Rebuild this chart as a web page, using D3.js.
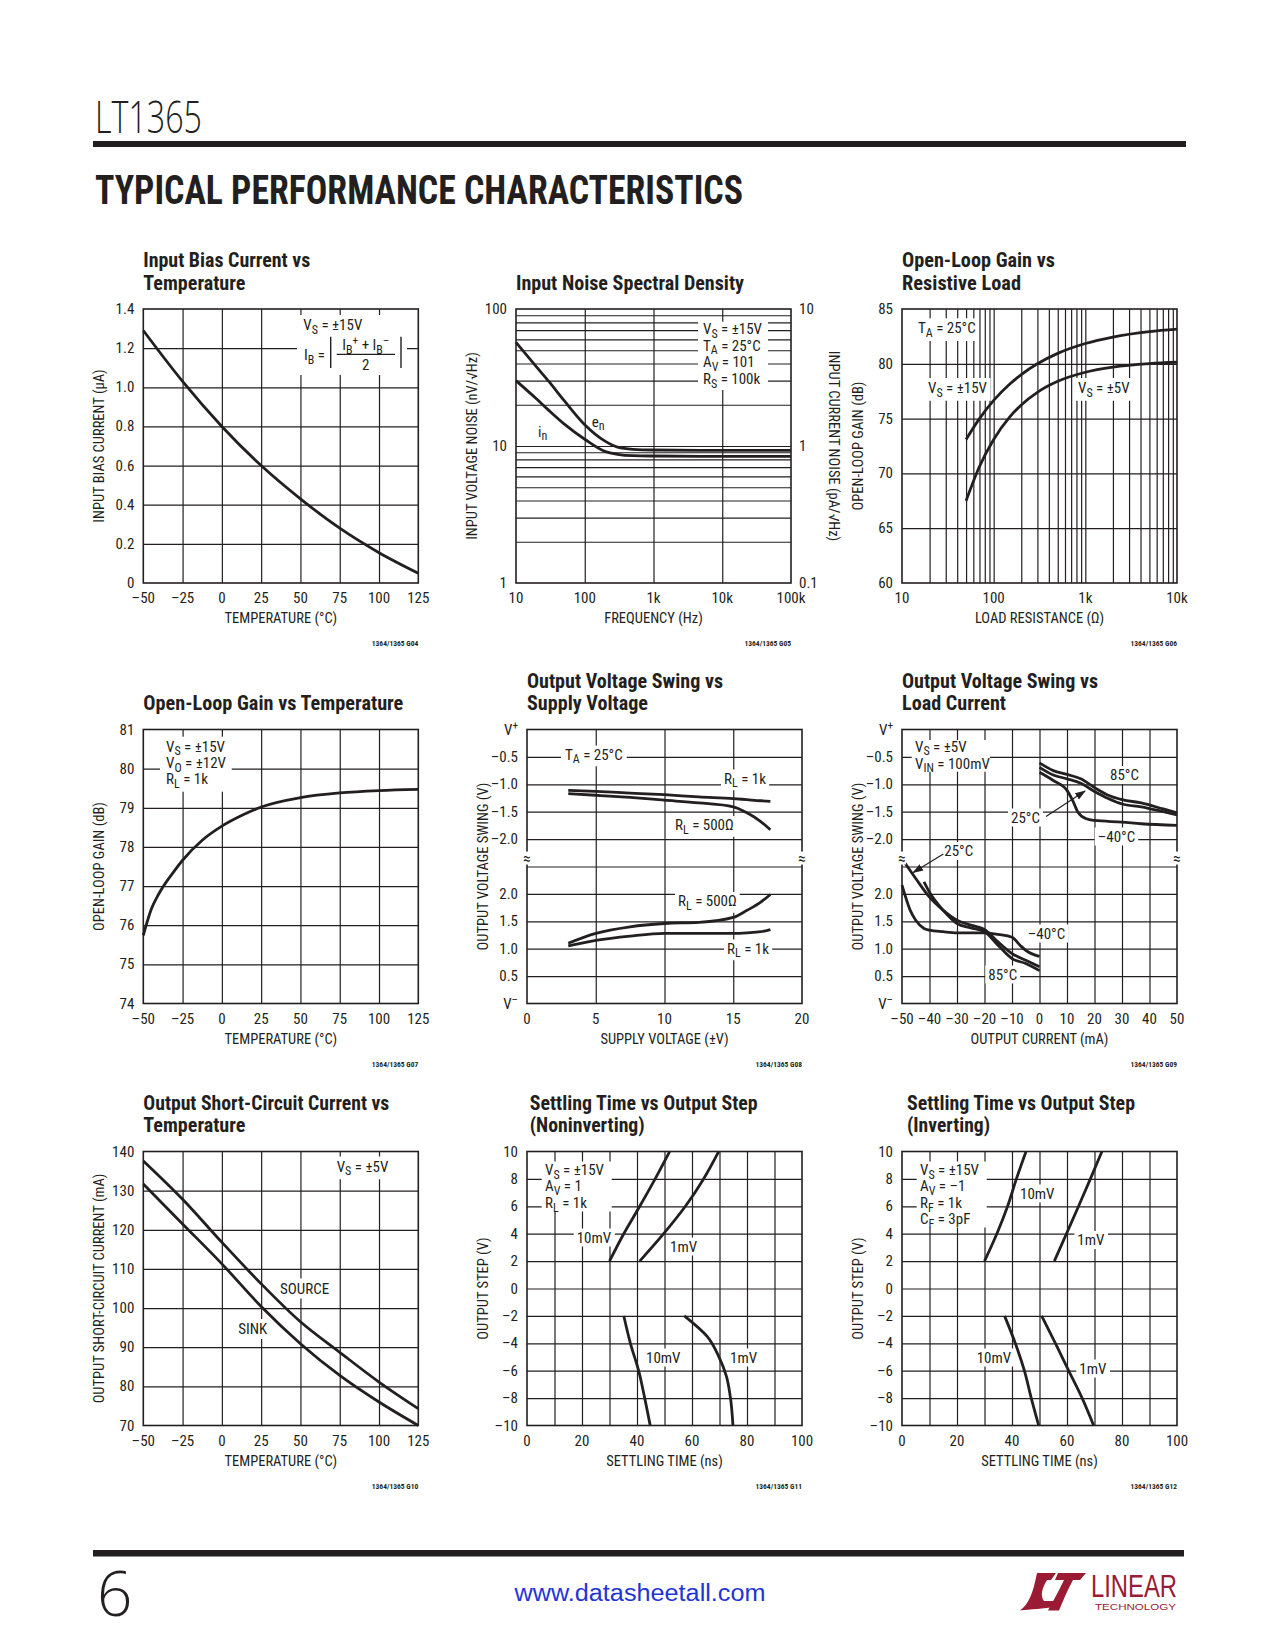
<!DOCTYPE html>
<html><head><meta charset="utf-8">
<script src="https://cdnjs.cloudflare.com/ajax/libs/d3/7.8.5/d3.min.js"></script>
<style>body{margin:0;background:#fff}svg{display:block}</style>
</head><body>
<script>
// ================= DATA =================
// 1. Input bias current vs temperature
const biasTemp = [-50, -25, 0, 25, 50, 75, 100, 125];
const biasCurrent = [1.29, 1.03, 0.80, 0.60, 0.43, 0.28, 0.155, 0.05];
// 2. Input noise spectral density
const noiseFreq = [10, 20, 30, 50, 100, 200, 300, 500, 1000, 10000, 100000];
const noiseEn = [57, 37.6, 29.6, 21.5, 14.3, 10.8, 9.8, 9.45, 9.35, 9.3, 9.3];      // nV/rtHz
const noiseIn = [3.0, 2.2, 1.82, 1.45, 1.12, 0.91, 0.87, 0.85, 0.845, 0.84, 0.84];  // pA/rtHz
// 3. Open-loop gain vs resistive load
const loadRes = [50, 70, 100, 150, 200, 300, 500, 1000, 2000, 5000, 10000];
const gainVs15 = [73.1, 75.0, 76.66, 78.15, 79.02, 80.0, 80.95, 81.85, 82.44, 82.93, 83.16];
const gainVs5 = [67.5, 70.63, 73.1, 75.16, 76.25, 77.4, 78.4, 79.23, 79.7, 80.02, 80.14];
// 4. Open-loop gain vs temperature
const olgTemp = [-50, -45, -40, -30, -25, -12.5, 0, 12.5, 25, 50, 75, 100, 125];
const olgGain = [75.74, 76.4, 76.81, 77.4, 77.66, 78.17, 78.53, 78.80, 79.02, 79.26, 79.38, 79.44, 79.47];
// 5. Output voltage swing vs supply voltage (top: V from V+, bottom: V from V-)
const swingSupply = [3, 5, 7.5, 10, 12.5, 15, 16, 17, 17.7];
const swingTop1k = [-1.11, -1.13, -1.16, -1.19, -1.23, -1.26, -1.28, -1.30, -1.31];
const swingTop500 = [-1.17, -1.20, -1.24, -1.29, -1.34, -1.41, -1.52, -1.68, -1.83];
const swingBot500 = [1.10, 1.28, 1.40, 1.46, 1.48, 1.57, 1.70, 1.85, 1.99];
const swingBot1k = [1.05, 1.15, 1.23, 1.28, 1.28, 1.28, 1.29, 1.31, 1.35];
// 6. Output voltage swing vs load current
const srcCurrent = [0, 5, 10, 15, 20, 25, 30, 37, 45, 50];
const src85 = [-0.61, -0.75, -0.82, -0.90, -1.06, -1.20, -1.28, -1.34, -1.45, -1.52];
const src25 = [-0.69, -0.83, -0.90, -0.98, -1.13, -1.26, -1.36, -1.41, -1.50, -1.56];
const srcColdCurrent = [0, 5, 10, 12, 14, 17, 20, 30, 37, 50];
const srcCold = [-0.78, -0.93, -1.11, -1.29, -1.51, -1.63, -1.66, -1.69, -1.72, -1.75];
const sinkCurrent = [-50, -45, -40, -35, -30, -25, -20, -15, -10, -5, 0];
const sink25 = [2.64, 2.28, 1.94, 1.70, 1.52, 1.43, 1.35, 1.12, 0.91, 0.79, 0.67];
const sink85Current = [-42, -40, -35, -30, -25, -20, -15, -10, -5, 0];
const sink85 = [2.22, 2.03, 1.70, 1.46, 1.38, 1.31, 1.06, 0.82, 0.73, 0.60];
const sinkColdCurrent = [-50, -47, -45, -42, -40, -35, -30, -20, -15, -10, -7, -5, 0];
const sinkCold = [2.16, 1.70, 1.52, 1.37, 1.34, 1.31, 1.29, 1.29, 1.26, 1.21, 1.06, 0.97, 0.86];
// 7. Output short-circuit current vs temperature
const scTemp = [-50, -25, 0, 25, 50, 75, 100, 125];
const scSource = [137.6, 127.8, 116.8, 106.2, 96.5, 88.7, 81.1, 74.3];
const scSink = [131.7, 121.5, 111.3, 100.4, 90.9, 82.8, 76.0, 70.0];
// 8. Settling time vs output step (noninverting)
const stepPos = [2, 4, 6, 8, 10];
const stepNeg = [-2, -4, -6, -8, -10];
const ni10mVPos = [30, 35.2, 41.0, 46.6, 51.9];
const ni1mVPos = [41, 49.7, 57.6, 64.2, 69.7];
const ni10mVNeg = [35.2, 37.6, 40.6, 42.8, 44.8];
const ni1mVNegStep = [-2, -3.5, -4.95, -6.4, -7.86, -10];
const ni1mVNeg = [57.2, 65.5, 69.7, 72.5, 73.9, 74.9];
// 9. Settling time vs output step (inverting)
const inv10mVPos = [30, 34.5, 38.4, 41.6, 45.1];
const inv1mVPos = [55.4, 59.8, 64.2, 68.5, 72.7];
const inv10mVNeg = [37.3, 41.2, 44.5, 47.0, 49.7];
const inv1mVNeg = [50.8, 55.8, 60.6, 65.5, 69.7];

// tick labels
const tempTicks = [-50, -25, 0, 25, 50, 75, 100, 125];
const biasTicks = [0, 0.2, 0.4, 0.6, 0.8, 1.0, 1.2, 1.4];
const freqTicks = [10, 100, 1000, 10000, 100000];
const freqLabels = ['10', '100', '1k', '10k', '100k'];
const resTicks = [10, 100, 1000, 10000];
const resLabels = ['10', '100', '1k', '10k'];
const gainTicks = [60, 65, 70, 75, 80, 85];
const olgTicks = [74, 75, 76, 77, 78, 79, 80, 81];
const supplyTicks = [0, 5, 10, 15, 20];
const currentTicks = [-50, -40, -30, -20, -10, 0, 10, 20, 30, 40, 50];
const swingUpTicks = [-0.5, -1.0, -1.5, -2.0];
const swingLoTicks = [2.0, 1.5, 1.0, 0.5];
const scTicks = [70, 80, 90, 100, 110, 120, 130, 140];
const settleTicks = [0, 20, 40, 60, 80, 100];
const stepTicks = [10, 8, 6, 4, 2, 0, -2, -4, -6, -8, -10];

const chartTitles = [
  ['Input Bias Current vs', 'Temperature'],
  ['Input Noise Spectral Density'],
  ['Open-Loop Gain vs', 'Resistive Load'],
  ['Open-Loop Gain vs Temperature'],
  ['Output Voltage Swing vs', 'Supply Voltage'],
  ['Output Voltage Swing vs', 'Load Current'],
  ['Output Short-Circuit Current vs', 'Temperature'],
  ['Settling Time vs Output Step', '(Noninverting)'],
  ['Settling Time vs Output Step', '(Inverting)']
];
const figIds = ['G04', 'G05', 'G06', 'G07', 'G08', 'G09', 'G10', 'G11', 'G12'];

// ================= LAYOUT =================
const W = 275, H = 274;
const pos = [[143.3, 309], [516, 309], [902, 309], [143.3, 729.5], [527, 729.5], [902, 729.5], [143.3, 1151.5], [527, 1151.5], [902, 1151.5]];
const titleLens = [[167, 102], [228], [153, 119], [260], [196, 121], [196, 104], [246, 102], [228, 115], [228, 83]];
const titleDx = [0, 0, 0, 0, 0, 0, 0, 2.7, 5];
const INK = '#231f20';
const FS = 15;

// ---- font detection ----
function fontAvailable(name) {
  const c = document.createElement('canvas').getContext('2d');
  const s = 'mmmmmmmmmmlliWWW0123456789abcXYZ';
  return ['monospace', 'serif'].some(b => {
    c.font = `72px ${b}`; const w = c.measureText(s).width;
    c.font = `72px "${name}", ${b}`; return c.measureText(s).width !== w;
  });
}
let NARROW = 'Liberation Sans', SX = 0.82;
for (const [n, s] of [['Liberation Sans Narrow', 1], ['Roboto Condensed', 1], ['DejaVu Sans Condensed', 0.85]]) {
  if (fontAvailable(n)) { NARROW = n; SX = s; break; }
}
const LIGHT = fontAvailable('Open Sans') ? 'Open Sans' : 'Liberation Sans';

const svg = d3.select('body').append('svg').attr('width', 1275).attr('height', 1650).attr('viewBox', '0 0 1275 1650');
svg.append('rect').attr('width', 1275).attr('height', 1650).attr('fill', '#fff');
const defs = svg.append('defs');
defs.append('marker').attr('id', 'ah').attr('viewBox', '0 0 10 10').attr('refX', 9).attr('refY', 5)
  .attr('markerWidth', 9).attr('markerHeight', 9).attr('orient', 'auto')
  .append('path').attr('d', 'M0,1.5L10,5L0,8.5Z').attr('fill', INK);

function rich(t, str, size) {
  const parts = str.split(/(_\{[^}]*\}|\^\{[^}]*\})/).filter(s => s.length);
  let shift = 0;
  parts.forEach(p => {
    let txt = p, sh = 0, fs = null;
    if (p.startsWith('_{')) { txt = p.slice(2, -1); sh = size * 0.25; fs = size * 0.8; }
    else if (p.startsWith('^{')) { txt = p.slice(2, -1); sh = -size * 0.38; fs = size * 0.75; }
    const ts = t.append('tspan').text(txt);
    if (sh !== shift) ts.attr('dy', sh - shift);
    if (fs) ts.attr('font-size', fs);
    shift = sh;
  });
}
function T(parent, x, y, str, o = {}) {
  const size = o.size || FS;
  const sx = o.sx != null ? o.sx : SX;
  let tr = `translate(${x},${y})`;
  if (o.rotate) tr += ` rotate(${o.rotate})`;
  if (sx !== 1) tr += ` scale(${sx},1)`;
  const g = parent.append('g').attr('transform', tr);
  const t = g.append('text').attr('font-family', o.family || NARROW).attr('font-size', size)
    .attr('font-weight', o.weight || 'normal').attr('text-anchor', o.anchor || 'start').attr('fill', o.color || INK);
  rich(t, String(str), size);
  if (o.len) t.attr('textLength', o.len / sx).attr('lengthAdjust', 'spacingAndGlyphs');
  if (o.bg) {
    const b = t.node().getBBox(); const p = Array.isArray(o.bg) ? o.bg : [3, 0];
    g.insert('rect', 'text').attr('x', b.x - p[0] / sx).attr('y', b.y - p[1])
      .attr('width', b.width + 2 * p[0] / sx).attr('height', b.height + 2 * p[1]).attr('fill', '#fff');
  }
  return g;
}
const fmtMinus = v => (v < 0 ? '–' : '') + Math.abs(v);
const fmt1 = v => v === 0 ? '0' : (v < 0 ? '–' : '') + Math.abs(v).toFixed(1);

function styleGrid(s) { s.select('.domain').remove(); s.selectAll('line').attr('stroke', INK).attr('stroke-width', 1.2); }
function gridX(g, sc, vals) {
  g.append('g').attr('transform', `translate(0,${H})`)
    .call(d3.axisBottom(sc).tickValues(vals).tickSize(-H).tickFormat('')).call(styleGrid);
}
function gridY(g, sc, vals) {
  g.append('g').call(d3.axisLeft(sc).tickValues(vals).tickSize(-W).tickFormat('')).call(styleGrid);
}
function border(g) { g.append('rect').attr('width', W).attr('height', H).attr('fill', 'none').attr('stroke', INK).attr('stroke-width', 1.6); }
function xLabels(g, sc, vals, lab) { vals.forEach((v, i) => T(g, sc(v), H + 20, lab(v, i), { anchor: 'middle' })); }
function yLabels(g, sc, vals, lab, right) {
  vals.forEach((v, i) => T(g, right ? W + 8 : -9, sc(v) + 5, lab(v, i), { anchor: right ? 'start' : 'end' }));
}
function xTitle(g, s) { T(g, W / 2, H + 40, s, { anchor: 'middle', size: 14.5 }); }
function yTitle(g, s) { T(g, -39, H / 2, s, { anchor: 'middle', rotate: -90, size: 14.5 }); }
function yTitleR(g, s) { T(g, W + 38, H / 2, s, { anchor: 'middle', rotate: 90, size: 14.5 }); }
function whiteBox(g, x, y, w, h) { g.append('rect').attr('x', x).attr('y', y).attr('width', w).attr('height', h).attr('fill', '#fff'); }
function curve(g, xs, ys, sx, sy, c) {
  const pts = xs.map((d, i) => [d, ys[i]]);
  g.append('path').datum(pts).attr('fill', 'none').attr('stroke', INK).attr('stroke-width', 2.8)
    .attr('stroke-linejoin', 'round').attr('stroke-linecap', 'butt')
    .attr('d', d3.line().x(d => sx(d[0])).y(d => sy(d[1])).curve(c || d3.curveMonotoneX));
}
function panel(i) {
  const g = svg.append('g').attr('transform', `translate(${pos[i][0]},${pos[i][1]})`);
  const lines = chartTitles[i];
  lines.forEach((l, k) => {
    const y = lines.length === 2 ? (k === 0 ? -42 : -19.5) : -19.5;
    T(g, titleDx[i], y, l, { size: 20, weight: 'bold', len: titleLens[i][k], sx: 1 });
  });
  T(g, W, H + 63, '1364/1365 ' + figIds[i], { anchor: 'end', size: 7.5, weight: 'bold' });
  return g;
}
function breakMarks(g, y) {
  [0, W].forEach(x => T(g, x, y + 5, '≈', { anchor: 'middle', size: 16, sx: 1, bg: [0, -3] }));
}

// ================= HEADER / FOOTER =================
T(svg, 95, 133, 'LT1365', { family: LIGHT, size: 44, weight: 300, len: 107, sx: 1 });
svg.append('rect').attr('x', 93).attr('y', 141).attr('width', 1093).attr('height', 6).attr('fill', INK);
T(svg, 95, 203.5, 'TYPICAL PERFORMANCE CHARACTERISTICS', { size: 40, weight: 'bold', len: 648, sx: 1 });
svg.append('rect').attr('x', 93).attr('y', 1550).attr('width', 1091).attr('height', 6.5).attr('fill', INK);
T(svg, 97, 1616, '6', { family: LIGHT, size: 62, weight: 300, sx: 1 });
T(svg, 640, 1601, 'www.datasheetall.com', { family: 'Liberation Sans', size: 23, anchor: 'middle', color: '#1f35d4', len: 251, sx: 1 });
{
  const lg = svg.append('g').attr('transform', 'translate(1020,1573)');
  const red = '#9b1b35';
  lg.append('path').attr('fill', red).attr('d', 'M17,0 L36,0 L31,7 L27,7 C22,15 20,23 24,28 L40,28 L35,34 C24,35.5 10,36.5 0,37.5 C9,31 13,20 17,0 Z');
  lg.append('path').attr('fill', red).attr('d', 'M38,0 L66,0 L60,7 L53,7 C47,18 43,28 39,37.5 L28,37.5 C33,28 39,18 44,7 L35,7 Z');
  T(svg, 1091, 1596.5, 'LINEAR', { family: 'Liberation Sans', size: 32, color: red, len: 86, sx: 1 });
  T(svg, 1095, 1609.5, 'TECHNOLOGY', { family: 'Liberation Sans', size: 9.5, color: red, len: 81, sx: 1 });
}

// ================= 1. Input bias current =================
{
  const g = panel(0);
  const x = d3.scaleLinear().domain([-50, 125]).range([0, W]);
  const y = d3.scaleLinear().domain([0, 1.4]).range([H, 0]);
  gridX(g, x, tempTicks.slice(1, -1)); gridY(g, y, biasTicks.slice(1, -1));
  whiteBox(g, 153.7, 6, 110, 60);
  T(g, 160, 21, 'V_{S} = ±15V');
  T(g, 160.7, 51, 'I_{B} =');
  [187.4, 257.7].forEach(bx => g.append('line').attr('x1', bx).attr('x2', bx).attr('y1', 27.7).attr('y2', 59).attr('stroke', INK).attr('stroke-width', 1.4));
  g.append('line').attr('x1', 193.4).attr('x2', 251.7).attr('y1', 45.3).attr('y2', 45.3).attr('stroke', INK).attr('stroke-width', 1.2);
  T(g, 222.5, 41, 'I_{B}^{+} + I_{B}^{–}', { anchor: 'middle' });
  T(g, 222.5, 61, '2', { anchor: 'middle' });
  curve(g, biasTemp, biasCurrent, x, y);
  border(g);
  xLabels(g, x, tempTicks, fmtMinus); yLabels(g, y, biasTicks, fmt1);
  xTitle(g, 'TEMPERATURE (°C)'); yTitle(g, 'INPUT BIAS CURRENT (µA)');
}
// ================= 2. Noise =================
{
  const g = panel(1);
  const x = d3.scaleLog().domain([10, 1e5]).range([0, W]);
  const y = d3.scaleLog().domain([1, 100]).range([H, 0]);
  const yR = d3.scaleLog().domain([0.1, 10]).range([H, 0]);
  const hv = [...d3.range(2, 10), 10, ...d3.range(20, 100, 10)];
  gridX(g, x, [100, 1000, 10000]); gridY(g, y, hv);
  whiteBox(g, 182, 12.7, 70, 68.3);
  ['V_{S} = ±15V', 'T_{A} = 25°C', 'A_{V} = 101', 'R_{S} = 100k'].forEach((s, i) => T(g, 187, 25 + i * 16.7, s));
  curve(g, noiseFreq, noiseEn, x, y);
  curve(g, noiseFreq, noiseIn, x, yR);
  T(g, 75.7, 117.7, 'e_{n}'); T(g, 22, 127.7, 'i_{n}');
  border(g);
  xLabels(g, x, freqTicks, (v, i) => freqLabels[i]);
  yLabels(g, y, [1, 10, 100], v => String(v));
  yLabels(g, yR, [0.1, 1, 10], v => String(v), true);
  xTitle(g, 'FREQUENCY (Hz)'); yTitle(g, 'INPUT VOLTAGE NOISE (nV/√Hz)'); yTitleR(g, 'INPUT CURRENT NOISE (pA/√Hz)');
}
// ================= 3. OLG vs load =================
{
  const g = panel(2);
  const x = d3.scaleLog().domain([10, 1e4]).range([0, W]);
  const y = d3.scaleLinear().domain([60, 85]).range([H, 0]);
  const vv = [...d3.range(20, 100, 10), 100, ...d3.range(200, 1000, 100), 1000, ...d3.range(2000, 10000, 1000)];
  gridX(g, x, vv); gridY(g, y, gainTicks.slice(1, -1));
  T(g, 16, 24.3, 'T_{A} = 25°C', { bg: [3, 1] });
  T(g, 26, 84, 'V_{S} = ±15V', { bg: [3, 1] });
  T(g, 176, 84, 'V_{S} = ±5V', { bg: [3, 1] });
  curve(g, loadRes, gainVs15, x, y);
  curve(g, loadRes, gainVs5, x, y);
  border(g);
  xLabels(g, x, resTicks, (v, i) => resLabels[i]);
  yLabels(g, y, gainTicks, v => String(v));
  xTitle(g, 'LOAD RESISTANCE (Ω)'); yTitle(g, 'OPEN-LOOP GAIN (dB)');
}
// ================= 4. OLG vs temp =================
{
  const g = panel(3);
  const x = d3.scaleLinear().domain([-50, 125]).range([0, W]);
  const y = d3.scaleLinear().domain([74, 81]).range([H, 0]);
  gridX(g, x, tempTicks.slice(1, -1)); gridY(g, y, olgTicks.slice(1, -1));
  whiteBox(g, 16.7, 7.2, 71.7, 55);
  ['V_{S} = ±15V', 'V_{O} = ±12V', 'R_{L} = 1k'].forEach((s, i) => T(g, 22.7, 22 + i * 16.3, s));
  curve(g, olgTemp, olgGain, x, y);
  border(g);
  xLabels(g, x, tempTicks, fmtMinus); yLabels(g, y, olgTicks, v => String(v));
  xTitle(g, 'TEMPERATURE (°C)'); yTitle(g, 'OPEN-LOOP GAIN (dB)');
}
// ---- shared broken axis for swing charts ----
function swingAxes(g) {
  const row = d3.scaleLinear().domain([0, 10]).range([0, H]);
  const yUp = d3.scaleLinear().domain([0, -2.5]).range([0, H / 2]);
  const yLo = d3.scaleLinear().domain([0, 2.5]).range([H, H / 2]);
  gridY(g, row, d3.range(1, 10));
  return { row, yUp, yLo };
}
function swingLabels(g, s) {
  yLabels(g, s.yUp, [0, ...swingUpTicks], v => v === 0 ? 'V^{+}' : fmt1(v));
  yLabels(g, s.yLo, [...swingLoTicks, 0], v => v === 0 ? 'V^{–}' : fmt1(v));
  breakMarks(g, s.row(4.71));
  yTitle(g, 'OUTPUT VOLTAGE SWING (V)');
}
// ================= 5. swing vs supply =================
{
  const g = panel(4);
  const x = d3.scaleLinear().domain([0, 20]).range([0, W]);
  const s = swingAxes(g);
  gridX(g, x, [5, 10, 15]);
  T(g, 38, 30, 'T_{A} = 25°C', { bg: [4, 0] });
  T(g, 197, 54, 'R_{L} = 1k', { bg: [3, 0] });
  T(g, 148, 100.5, 'R_{L} = 500Ω', { bg: [3, 0] });
  T(g, 151, 176.5, 'R_{L} = 500Ω', { bg: [3, 0] });
  T(g, 200, 224, 'R_{L} = 1k', { bg: [3, 0] });
  curve(g, swingSupply, swingTop1k, x, s.yUp);
  curve(g, swingSupply, swingTop500, x, s.yUp);
  curve(g, swingSupply, swingBot500, x, s.yLo);
  curve(g, swingSupply, swingBot1k, x, s.yLo);
  border(g);
  xLabels(g, x, supplyTicks, v => String(v));
  swingLabels(g, s);
  xTitle(g, 'SUPPLY VOLTAGE (±V)');
}
// ================= 6. swing vs load current =================
{
  const g = panel(5);
  const x = d3.scaleLinear().domain([-50, 50]).range([0, W]);
  const s = swingAxes(g);
  gridX(g, x, currentTicks.slice(1, -1));
  whiteBox(g, 9.7, 10.5, 78.3, 31.7);
  T(g, 13, 22, 'V_{S} = ±5V'); T(g, 13, 39, 'V_{IN} = 100mV');
  T(g, 208, 50.5, '85°C', { bg: [3, 0] });
  T(g, 109, 93, '25°C', { bg: [3, 0] });
  T(g, 195.7, 112, '–40°C', { bg: [3, 0] });
  T(g, 42.3, 126.5, '25°C', { bg: [3, 0] });
  T(g, 125.7, 209, '–40°C', { bg: [3, 0] });
  T(g, 86.3, 250, '85°C', { bg: [3, 0] });
  curve(g, srcCurrent, src85, x, s.yUp);
  curve(g, srcCurrent, src25, x, s.yUp);
  curve(g, srcColdCurrent, srcCold, x, s.yUp);
  curve(g, sinkCurrent, sink25, x, s.yLo);
  curve(g, sink85Current, sink85, x, s.yLo);
  curve(g, sinkColdCurrent, sinkCold, x, s.yLo);
  g.append('line').attr('x1', 144).attr('y1', 87).attr('x2', 183).attr('y2', 61.5).attr('stroke', INK).attr('stroke-width', 1.2).attr('marker-end', 'url(#ah)');
  g.append('line').attr('x1', 41.3).attr('y1', 124.5).attr('x2', 11.3).attr('y2', 143).attr('stroke', INK).attr('stroke-width', 1.2).attr('marker-end', 'url(#ah)');
  border(g);
  xLabels(g, x, currentTicks, fmtMinus);
  swingLabels(g, s);
  xTitle(g, 'OUTPUT CURRENT (mA)');
}
// ================= 7. short-circuit current =================
{
  const g = panel(6);
  const x = d3.scaleLinear().domain([-50, 125]).range([0, W]);
  const y = d3.scaleLinear().domain([70, 140]).range([H, 0]);
  gridX(g, x, tempTicks.slice(1, -1)); gridY(g, y, scTicks.slice(1, -1));
  T(g, 193.4, 20, 'V_{S} = ±5V', { bg: [4, 1] });
  T(g, 136.7, 142, 'SOURCE', { bg: [3, 1] });
  T(g, 95, 182.5, 'SINK', { bg: [3, 1] });
  curve(g, scTemp, scSource, x, y);
  curve(g, scTemp, scSink, x, y);
  border(g);
  xLabels(g, x, tempTicks, fmtMinus); yLabels(g, y, scTicks, v => String(v));
  xTitle(g, 'TEMPERATURE (°C)'); yTitle(g, 'OUTPUT SHORT-CIRCUIT CURRENT (mA)');
}
// ================= 8/9. settling time =================
function settle(i, legend, legendBox, labels, series) {
  const g = panel(i);
  const x = d3.scaleLinear().domain([0, 100]).range([0, W]);
  const y = d3.scaleLinear().domain([-10, 10]).range([H, 0]);
  gridX(g, x, d3.range(10, 100, 10)); gridY(g, y, d3.range(-8, 10, 2));
  whiteBox(g, ...legendBox);
  legend.forEach((s, k) => T(g, 18, 23.5 + k * 16.4, s));
  labels.forEach(l => T(g, l[0], l[1], l[2], { bg: [3, 0] }));
  series.forEach(sr => curve(g, sr[0], sr[1], x, y, d3.curveMonotoneY));
  border(g);
  xLabels(g, x, settleTicks, v => String(v));
  yLabels(g, y, stepTicks, fmtMinus);
  xTitle(g, 'SETTLING TIME (ns)'); yTitle(g, 'OUTPUT STEP (V)');
}
settle(7, ['V_{S} = ±15V', 'A_{V} = 1', 'R_{L} = 1k'], [14.7, 10, 70, 50],
  [[49.7, 91, '10mV'], [143, 100, '1mV'], [119, 211, '10mV'], [203, 211, '1mV']],
  [[ni10mVPos, stepPos], [ni1mVPos, stepPos], [ni10mVNeg, stepNeg], [ni1mVNeg, ni1mVNegStep]]);
settle(8, ['V_{S} = ±15V', 'A_{V} = –1', 'R_{F} = 1k', 'C_{F} = 3pF'], [14.7, 10, 70, 66],
  [[118, 47, '10mV'], [175.3, 93.5, '1mV'], [74.7, 211, '10mV'], [177.3, 222, '1mV']],
  [[inv10mVPos, stepPos], [inv1mVPos, stepPos], [inv10mVNeg, stepNeg], [inv1mVNeg, stepNeg]]);
</script></body></html>
